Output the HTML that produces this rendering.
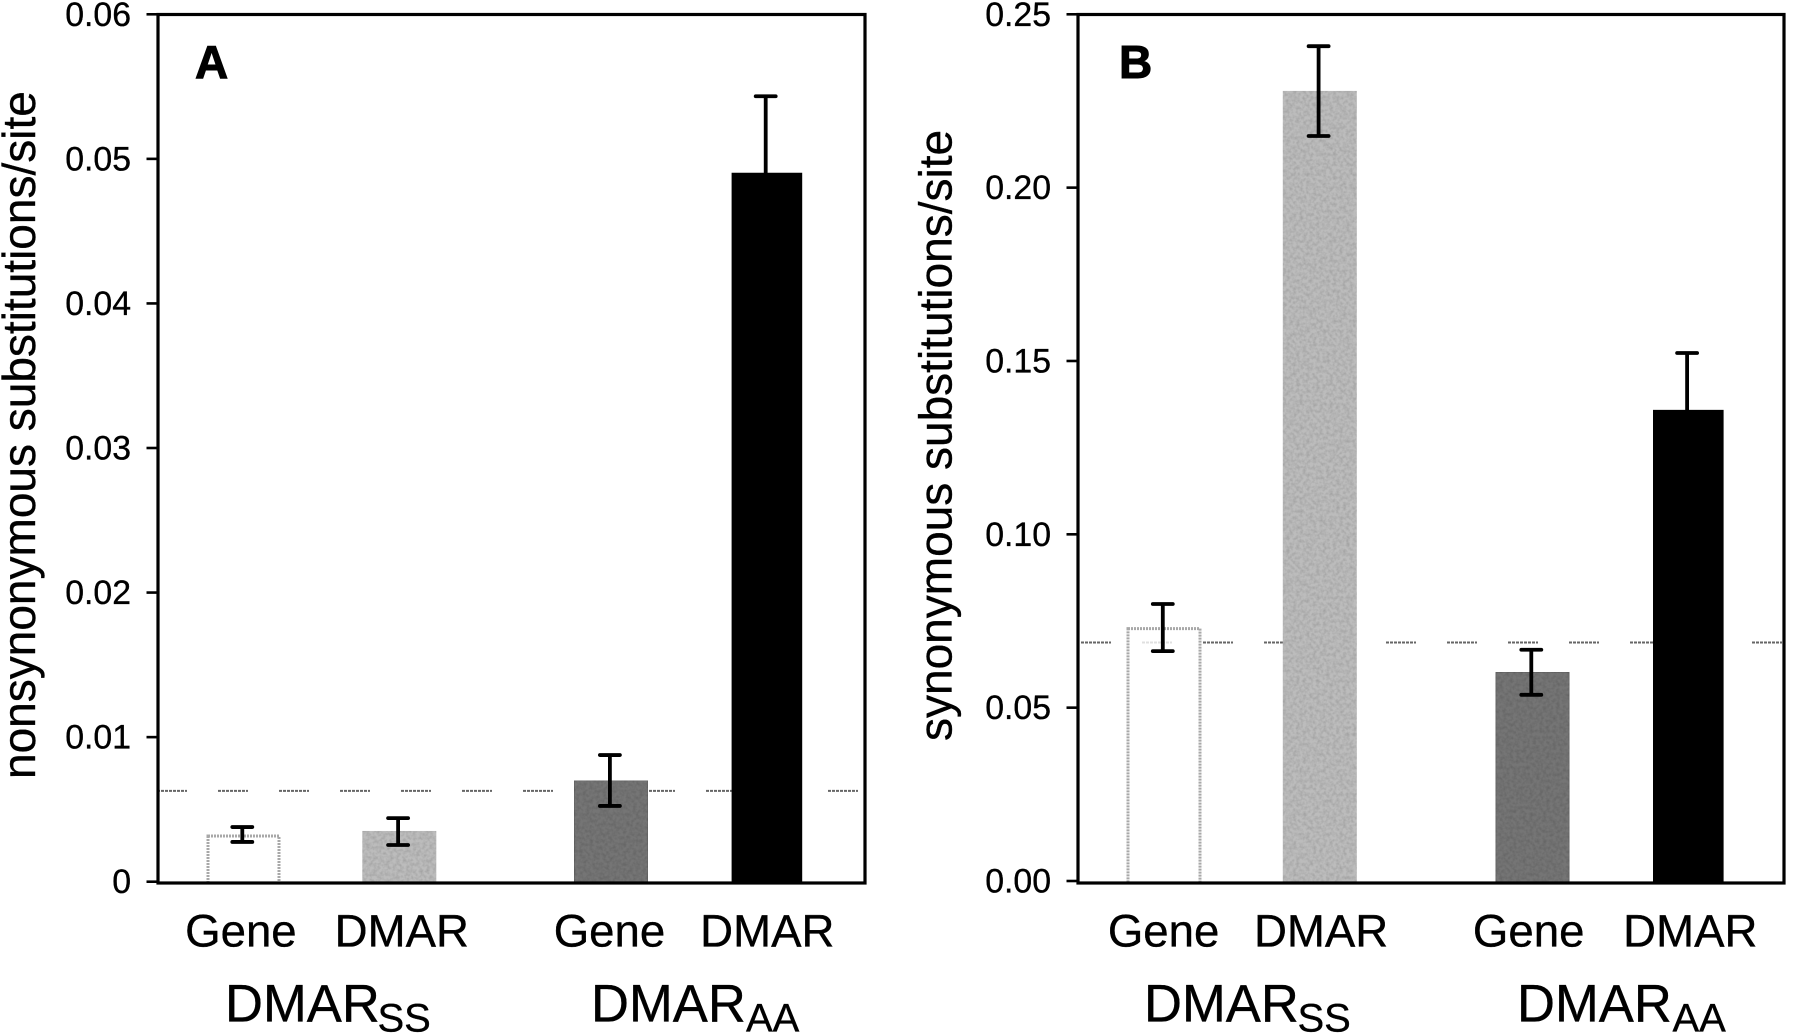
<!DOCTYPE html>
<html lang="en">
<head>
<meta charset="utf-8">
<title>Substitutions per site: DMAR vs Gene</title>
<style>
html,body{margin:0;padding:0;background:#fff;}
svg{display:block;}
text{font-family:"Liberation Sans",Arial,sans-serif;fill:#000;stroke:#000;stroke-width:0.35px;}
</style>
</head>
<body>
<svg id="chart" width="1800" height="1035" viewBox="0 0 1800 1035" xmlns="http://www.w3.org/2000/svg">
  <defs>
    <filter id="grain" x="0" y="0" width="1" height="1" color-interpolation-filters="sRGB">
      <feTurbulence type="fractalNoise" baseFrequency="0.3" numOctaves="2" seed="3" result="noise"/>
      <feColorMatrix in="noise" type="matrix" values="0 0 0 0 0  0 0 0 0 0  0 0 0 0 0  0 0 0 0.25 -0.09" result="speck"/>
      <feComposite in="speck" in2="SourceAlpha" operator="in" result="clipped"/>
      <feMerge>
        <feMergeNode in="SourceGraphic"/>
        <feMergeNode in="clipped"/>
      </feMerge>
    </filter>
  </defs>
  <rect x="0" y="0" width="1800" height="1035" fill="#fff"/>
  <g id="panel-a"></g>
  <g id="panel-b"></g>
  <text transform="translate(35,779) rotate(-90)" font-size="46">nonsynonymous substitutions/site</text>
  <text transform="translate(951.7,741) rotate(-90)" font-size="46">synonymous substitutions/site</text>
  <text x="195" y="78" font-size="46" font-weight="bold" style="stroke-width:1px">A</text>
  <text x="1119" y="78" font-size="46" font-weight="bold" style="stroke-width:1px">B</text>
</svg>
<script>
// Shared categories
const categories = ["Gene", "DMAR", "Gene", "DMAR"];
const groupNames = ["DMAR", "DMAR"];
const groupSubscripts = ["SS", "AA"];

// Panel A data
const tickValuesA = [0, 0.01, 0.02, 0.03, 0.04, 0.05, 0.06];
const tickLabelsA = ["0", "0.01", "0.02", "0.03", "0.04", "0.05", "0.06"];
const valuesA = [0.00316, 0.00351, 0.00699, 0.04904];
const errorHighA = [0.00378, 0.00440, 0.00876, 0.05433];
const errorLowA = [0.00275, 0.00254, 0.00524, 0.04375];
const referenceA = 0.00628;

// Panel B data
const tickValuesB = [0, 0.05, 0.10, 0.15, 0.20, 0.25];
const tickLabelsB = ["0.00", "0.05", "0.10", "0.15", "0.20", "0.25"];
const valuesB = [0.0728, 0.2279, 0.0602, 0.1359];
const errorHighB = [0.0799, 0.2408, 0.0667, 0.1523];
const errorLowB = [0.0663, 0.2149, 0.0537, 0.1195];
const referenceB = 0.0688;

const SVG_NS = "http://www.w3.org/2000/svg";

function make(parent, tag, props, content) {
  const el = document.createElementNS(SVG_NS, tag);
  for (const key in props) el.setAttribute(key, props[key]);
  if (content !== undefined) el.textContent = content;
  parent.appendChild(el);
  return el;
}

function drawPanel(host, id, cfg, ticks, tickLabels, values, high, low, reference) {
  const y = cfg.yScale;
  const x = function (i) { return cfg.x0 + i * 155.8 + (i >= 2 ? cfg.gap : 0); };
  const barWidth = function (i) { return cfg.widths[i]; };

  // dashed reference line, drawn before the bars so that bars cover it
  const refY = y(reference);
  for (let k = 0; cfg.dashStart + k * 61 < cfg.right - 3; k++) {
    const x1 = cfg.dashStart + k * 61;
    const dash = make(host, "line", {
      x1: x1, x2: Math.min(x1 + 30, cfg.right - 2), y1: refY, y2: refY,
      stroke: "#666", "stroke-width": 2, "stroke-dasharray": "3 1"
    });
    
    
  }

  // bars
  values.forEach(function (v, i) {
    const w = barWidth(i);
    const style = [
      { fill: "#fff", "fill-opacity": 0.8, stroke: "#a8a8a8", "stroke-width": 3, "stroke-dasharray": "2 1" },
      { fill: "#bcbcbc", filter: "url(#grain)" },
      { fill: "#757575", stroke: "#666", "stroke-width": 1, filter: "url(#grain)" },
      { fill: "#000" }
    ][i];
    const props = { x: x(i) - w / 2, y: y(v), width: w, height: cfg.base - y(v) };
    for (const key in style) props[key] = style[key];
    const bar = make(host, "rect", props);
    
    
  });

  // error bars
  values.forEach(function (v, i) {
    const cx = x(i) - 1.2;
    const stem = make(host, "line", { x1: cx, x2: cx, y1: y(high[i]), y2: y(low[i]), stroke: "#000", "stroke-width": 3.8 });
    
    
    const capTop = make(host, "line", { x1: cx - 10, x2: cx + 10, y1: y(high[i]), y2: y(high[i]), stroke: "#000", "stroke-width": 3.8, "stroke-linecap": "round" });
    
    
    const capLow = make(host, "line", { x1: cx - 10, x2: cx + 10, y1: y(low[i]), y2: y(low[i]), stroke: "#000", "stroke-width": 3.8, "stroke-linecap": "round" });
    
    
  });

  // frame
  const frame = make(host, "rect", {
    x: cfg.left, y: 14.5, width: cfg.right - cfg.left, height: cfg.base - 14.5,
    fill: "none", stroke: "#000", "stroke-width": 3.2
  });
  
  

  // y ticks and labels
  ticks.forEach(function (t, i) {
    const tick = make(host, "line", {
      x1: cfg.left - 11.5, x2: cfg.left, y1: y(t), y2: y(t), stroke: "#000", "stroke-width": 2.6
    });
    
    
    const label = make(host, "text", {
      x: cfg.left - 27, y: y(t) + 11.5, "font-size": 33.8, "text-anchor": "end"
    }, tickLabels[i]);
    
    
  });

  // category labels
  categories.forEach(function (c, i) {
    const label = make(host, "text", {
      x: x(i) + cfg.labelNudge[i], y: 946.3, "font-size": 45.6, "text-anchor": "middle"
    }, c);
    
    
  });

  // group labels with subscripts
  groupNames.forEach(function (g, i) {
    const main = make(host, "text", { x: cfg.groupX[i], y: 1021.7, "font-size": 52.6 }, g);
    
    
    const sub = make(host, "text", { x: cfg.subX[i], y: 1031.7, "font-size": 40 }, groupSubscripts[i]);
    
    
  });
}

function yAxisA(v) { return 881.7 - (v / 0.06) * 867.4; }
function yAxisB(v) { return 881 - (v / 0.25) * 866.7; }

drawPanel(document.getElementById("panel-a"), "a", {
  yScale: yAxisA, left: 158, right: 865, base: 883,
  x0: 243.5, gap: 56, dashStart: 157,
  widths: [71, 74, 73.4, 70.6],
  labelNudge: [-2.6, 2.5, -1.6, 0.4],
  groupX: [225, 591], subX: [377.5, 746]
}, tickValuesA, tickLabelsA, valuesA, errorHighA, errorLowA, referenceA);

drawPanel(document.getElementById("panel-b"), "b", {
  yScale: yAxisB, left: 1078, right: 1784, base: 883,
  x0: 1164, gap: 56.9, dashStart: 1081,
  widths: [72, 74, 73.3, 70.6],
  labelNudge: [-0.4, 1.3, -3.8, 2],
  groupX: [1144, 1517], subX: [1297.5, 1672.5]
}, tickValuesB, tickLabelsB, valuesB, errorHighB, errorLowB, referenceB);
</script>
</body>
</html>
